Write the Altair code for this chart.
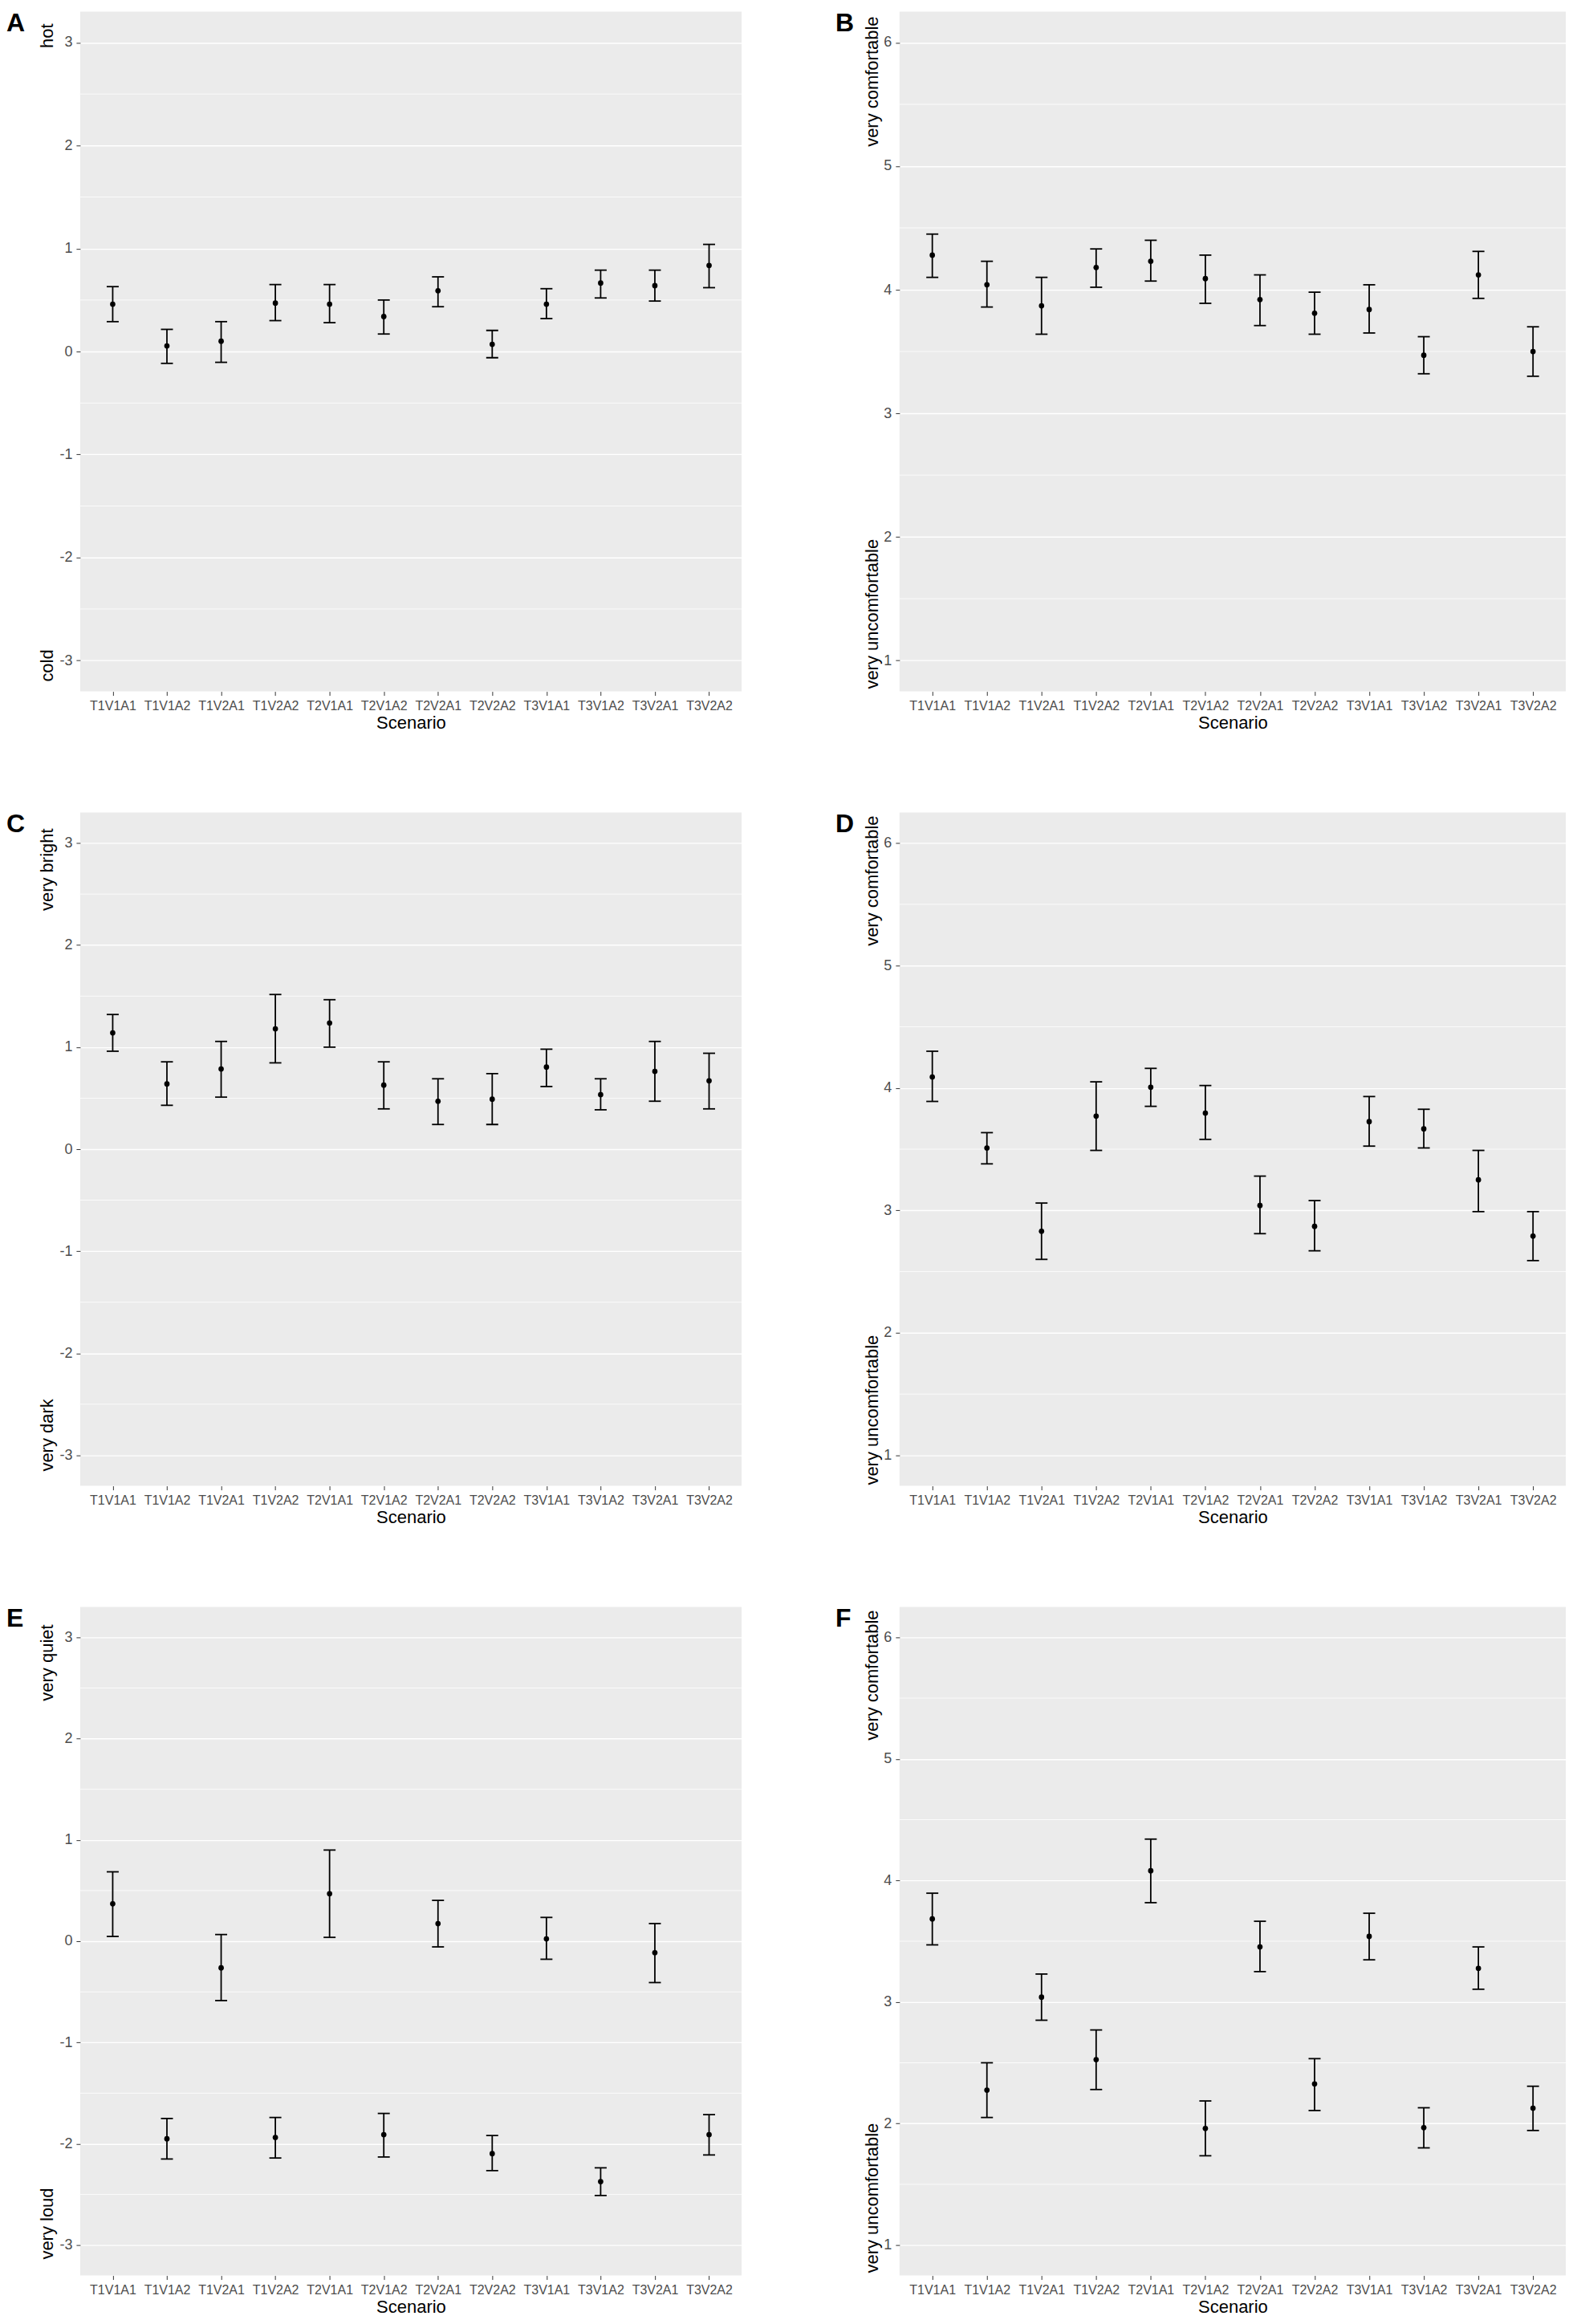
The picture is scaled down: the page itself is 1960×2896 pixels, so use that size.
import altair as alt
import pandas as pd

scenarios = ["T1V1A1", "T1V1A2", "T1V2A1", "T1V2A2", "T2V1A1", "T2V1A2",
             "T2V2A1", "T2V2A2", "T3V1A1", "T3V1A2", "T3V2A1", "T3V2A2"]

# Panel A: thermal sensation (cold .. hot)
a_mean = [0.46, 0.055, 0.10, 0.47, 0.46, 0.34, 0.59, 0.07, 0.46, 0.665, 0.64, 0.835]
a_lo = [0.29, -0.115, -0.105, 0.30, 0.28, 0.17, 0.435, -0.06, 0.32, 0.52, 0.49, 0.62]
a_hi = [0.63, 0.215, 0.29, 0.65, 0.65, 0.50, 0.725, 0.205, 0.61, 0.79, 0.79, 1.04]

# Panel B: thermal comfort
b_mean = [4.28, 4.04, 3.87, 4.18, 4.23, 4.09, 3.92, 3.81, 3.84, 3.47, 4.12, 3.50]
b_lo = [4.10, 3.86, 3.64, 4.02, 4.07, 3.89, 3.71, 3.64, 3.65, 3.32, 3.93, 3.30]
b_hi = [4.45, 4.23, 4.10, 4.33, 4.40, 4.28, 4.12, 3.98, 4.04, 3.62, 4.31, 3.70]

# Panel C: visual sensation (very dark .. very bright)
c_mean = [1.14, 0.64, 0.786, 1.18, 1.237, 0.628, 0.47, 0.49, 0.805, 0.535, 0.763, 0.67]
c_lo = [0.96, 0.43, 0.51, 0.846, 1.0, 0.395, 0.242, 0.242, 0.614, 0.386, 0.47, 0.395]
c_hi = [1.32, 0.856, 1.056, 1.516, 1.465, 0.856, 0.69, 0.74, 0.98, 0.69, 1.056, 0.94]

# Panel D: visual comfort
d_mean = [4.09, 3.51, 2.83, 3.77, 4.006, 3.795, 3.04, 2.87, 3.725, 3.666, 3.25, 2.79]
d_lo = [3.89, 3.38, 2.60, 3.49, 3.85, 3.58, 2.81, 2.67, 3.525, 3.51, 2.99, 2.59]
d_hi = [4.30, 3.635, 3.06, 4.05, 4.16, 4.02, 3.28, 3.08, 3.93, 3.826, 3.49, 2.99]

# Panel E: acoustic sensation (very loud .. very quiet)
e_mean = [0.37, -1.95, -0.263, -1.937, 0.469, -1.909, 0.174, -2.097, 0.023, -2.373, -0.113, -1.909]
e_lo = [0.047, -2.15, -0.586, -2.14, 0.038, -2.13, -0.056, -2.265, -0.178, -2.51, -0.408, -2.11]
e_hi = [0.685, -1.75, 0.066, -1.74, 0.90, -1.70, 0.403, -1.918, 0.235, -2.237, 0.174, -1.712]

# Panel F: acoustic comfort
f_mean = [3.684, 2.275, 3.04, 2.526, 4.08, 1.96, 3.453, 2.326, 3.54, 1.966, 3.277, 2.127]
f_lo = [3.47, 2.05, 2.85, 2.28, 3.817, 1.735, 3.25, 2.107, 3.347, 1.80, 3.105, 1.943]
f_hi = [3.895, 2.50, 3.23, 2.77, 4.34, 2.186, 3.664, 2.534, 3.73, 2.13, 3.453, 2.307]

sens_ticks = [-3, -2, -1, 0, 1, 2, 3]
sens_minor = [-2.5, -1.5, -0.5, 0.5, 1.5, 2.5]
comf_ticks = [1, 2, 3, 4, 5, 6]
comf_minor = [1.5, 2.5, 3.5, 4.5, 5.5]

FONT = "Liberation Sans"


def panel(letter, mean, lo, hi, domain, majors, minors, top_label, bottom_label,
          width, height, letter_x, title_x, top_off, bot_off):
    df = pd.DataFrame({"scenario": scenarios, "mean": mean, "lo": lo, "hi": hi})
    yscale = alt.Scale(domain=domain, nice=False, zero=False)
    yaxis = alt.Axis(values=majors, title=None, labelExpr="toString(datum.value)",
                     labelFontSize=18, labelPadding=5, gridWidth=1.4)
    xenc = alt.X("scenario:N", sort=scenarios,
                 scale=alt.Scale(type="point", padding=0.6),
                 axis=alt.Axis(title="Scenario", labelAngle=0, labelFontSize=16,
                               labelPadding=5, titleFontSize=22, titlePadding=3,
                               labelOverlap=False, gridWidth=1.4))
    base = alt.Chart(df)

    minor = alt.Chart(pd.DataFrame({"m": minors})).mark_rule(
        color="white", strokeWidth=0.8
    ).encode(y=alt.Y("m:Q", scale=yscale, axis=yaxis))

    bars = base.mark_rule(color="black", strokeWidth=1.8).encode(
        x=xenc,
        y=alt.Y("lo:Q", scale=yscale, axis=yaxis),
        y2="hi:Q",
    )
    cap_lo = base.mark_tick(color="black", size=15, thickness=1.8, opacity=1).encode(
        x=xenc, y=alt.Y("lo:Q", scale=yscale, axis=yaxis))
    cap_hi = base.mark_tick(color="black", size=15, thickness=1.8, opacity=1).encode(
        x=xenc, y=alt.Y("hi:Q", scale=yscale, axis=yaxis))
    pts = base.mark_circle(color="black", size=45, opacity=1).encode(
        x=xenc, y=alt.Y("mean:Q", scale=yscale, axis=yaxis))

    letter_txt = alt.Chart(pd.DataFrame({"t": [letter]})).mark_text(
        font=FONT, fontSize=32, fontWeight="bold", align="left",
        baseline="alphabetic", color="black"
    ).encode(text="t:N", x=alt.value(letter_x), y=alt.value(25))

    top_txt = alt.Chart(pd.DataFrame({"t": [top_label]})).mark_text(
        font=FONT, fontSize=22, angle=270, align="right", baseline="middle",
        color="black"
    ).encode(text="t:N", x=alt.value(title_x), y=alt.value(top_off))

    bot_txt = alt.Chart(pd.DataFrame({"t": [bottom_label]})).mark_text(
        font=FONT, fontSize=22, angle=270, align="left", baseline="middle",
        color="black"
    ).encode(text="t:N", x=alt.value(title_x), y=alt.value(height - bot_off))

    return alt.layer(minor, bars, cap_lo, cap_hi, pts, letter_txt, top_txt, bot_txt).properties(
        width=width, height=height)


LW, RW = 825, 831
sens_dom = [-3.3, 3.3]
comf_dom = [0.75, 6.25]

pA = panel("A", a_mean, a_lo, a_hi, sens_dom, sens_ticks, sens_minor, "hot", "cold",
           LW, 848, -92, -41, 15, 12)
pB = panel("B", b_mean, b_lo, b_hi, comf_dom, comf_ticks, comf_minor,
           "very comfortable", "very uncomfortable", RW, 848, -80, -34, 6, 3)
pC = panel("C", c_mean, c_lo, c_hi, sens_dom, sens_ticks, sens_minor,
           "very bright", "very dark", LW, 840, -92, -41, 20, 18)
pD = panel("D", d_mean, d_lo, d_hi, comf_dom, comf_ticks, comf_minor,
           "very comfortable", "very uncomfortable", RW, 840, -80, -34, 4, 1)
pE = panel("E", e_mean, e_lo, e_hi, sens_dom, sens_ticks, sens_minor,
           "very quiet", "very loud", LW, 834, -92, -41, 22, 20)
pF = panel("F", f_mean, f_lo, f_hi, comf_dom, comf_ticks, comf_minor,
           "very comfortable", "very uncomfortable", RW, 834, -80, -34, 4, 3)

chart = alt.vconcat(
    alt.hconcat(pA, pB, spacing=116),
    alt.hconcat(pC, pD, spacing=116),
    alt.hconcat(pE, pF, spacing=116),
    spacing=100,
).properties(
    padding={"left": 0, "top": 4, "right": 0, "bottom": 0}
).configure_view(
    fill="#EBEBEB", stroke=None
).configure_axis(
    labelFont=FONT, titleFont=FONT, domain=False,
    tickColor="#333333", tickSize=5, tickWidth=1,
    gridColor="white", labelColor="#4D4D4D", titleColor="black",
    titleFontWeight="normal",
)

chart.save("out.html", embed_options={"renderer": "svg", "actions": False})
